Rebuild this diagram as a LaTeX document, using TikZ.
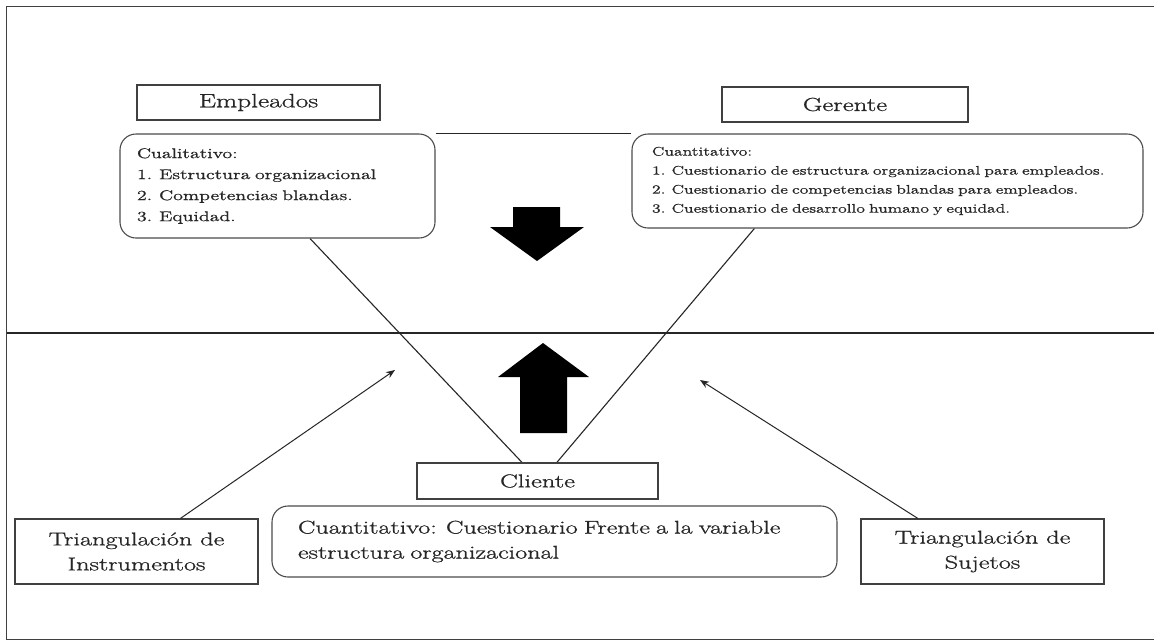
\documentclass[tikz,border=0pt]{standalone}
\usepackage{fontspec}
\setmainfont{Latin Modern Roman}[FakeStretch=1.42,FakeBold=1]
\usetikzlibrary{arrows.meta,calc,backgrounds}
\begin{document}
\begin{tikzpicture}[x=1pt,y=-1pt,
  box/.style={draw=black!75, line width=1.2pt, fill=white, text=black!85, inner sep=0pt, align=center},
  rbox/.style={draw=black!70, line width=1.1pt, fill=white, rounded corners=16pt, text=black!85, inner sep=0pt, align=left},
  conn/.style={draw=black!85, line width=1.1pt},
  thinarrow/.style={draw=black!85, line width=1pt, -{Stealth[length=9pt,width=7pt]}},
  bigarrow/.style={fill=black, draw=none}]
\useasboundingbox (0,0) rectangle (1154,641);
% frame
\draw[black!75, line width=1pt] (1154,6) -- (6,6) -- (6,639) -- (1154,639);

% nodes
\node[box, minimum width=243pt, minimum height=35pt, font=\fontsize{19.3}{22}\selectfont] (emp) at (258.5,102.5) {Empleados};
\node[box, minimum width=246pt, minimum height=35pt, font=\fontsize{18.9}{22}\selectfont] (ger) at (845,104.5) {Gerente};
\node[rbox, minimum width=315pt, minimum height=104pt, text width=281pt, font=\fontsize{14}{21}\selectfont] (cual) at (277.5,186)
  {Cualitativo:\\1. Estructura organizacional\\2. Competencias blandas.\\3. Equidad.};
\node[rbox, minimum width=511pt, minimum height=94pt, text width=471pt, font=\fontsize{12.4}{19}\selectfont] (cuan) at (887.5,181)
  {Cuantitativo:\\1. Cuestionario de estructura organizacional para empleados.\\2. Cuestionario de competencias blandas para empleados.\\3. Cuestionario de desarrollo humano y equidad.};
\node[box, minimum width=241pt, minimum height=36pt, font=\fontsize{18.7}{20}\selectfont] (cli) at (537.5,481) {Cliente};
\node[rbox, minimum width=565pt, minimum height=71pt, text width=513pt, font=\fontsize{18.4}{25}\selectfont] (clibox) at (554.5,541.5)
  {Cuantitativo: Cuestionario Frente a la variable\\estructura organizacional};
\node[box, minimum width=243pt, minimum height=65pt, font=\fontsize{18.5}{25}\selectfont] (trii) at (136.5,551.5) {Triangulación de\\Instrumentos};
\node[box, minimum width=243pt, minimum height=65pt, font=\fontsize{18.5}{25}\selectfont] (tris) at (982.5,551.5) {Triangulación de\\Sujetos};

\coordinate (midL) at (6,333);
\coordinate (midR) at (1154,333);
\coordinate (instTip) at (395,370);
\coordinate (sujTip) at (700,380);

\begin{scope}[on background layer]
  \fill[white] (0,0) rectangle (1154,641);
  \draw[conn] (cual.north east) -- (cuan.north west);
  \draw[conn] (midL) -- (midR);
  \draw[conn] ($(cual.south west)!0.603!(cual.south east)$) -- ($(cli.north west)!0.436!(cli.north east)$);
  \draw[conn] ($(cuan.south west)!0.24!(cuan.south east)$) -- ($(cli.north west)!0.58!(cli.north east)$);
\end{scope}

\draw[thinarrow] ($(trii.north west)!0.68!(trii.north east)$) -- (instTip);
\draw[thinarrow] ($(tris.north west)!0.235!(tris.north east)$) -- (sujTip);

% big arrows
\fill[bigarrow] (513,207) -- (560,207) -- (560,227) -- (584,227) -- (537,261) -- (490,227) -- (513,227) -- cycle;
\fill[bigarrow] (520,433) -- (567,433) -- (567,377) -- (589,377) -- (543,343) -- (498,377) -- (520,377) -- cycle;
\end{tikzpicture}
\end{document}
